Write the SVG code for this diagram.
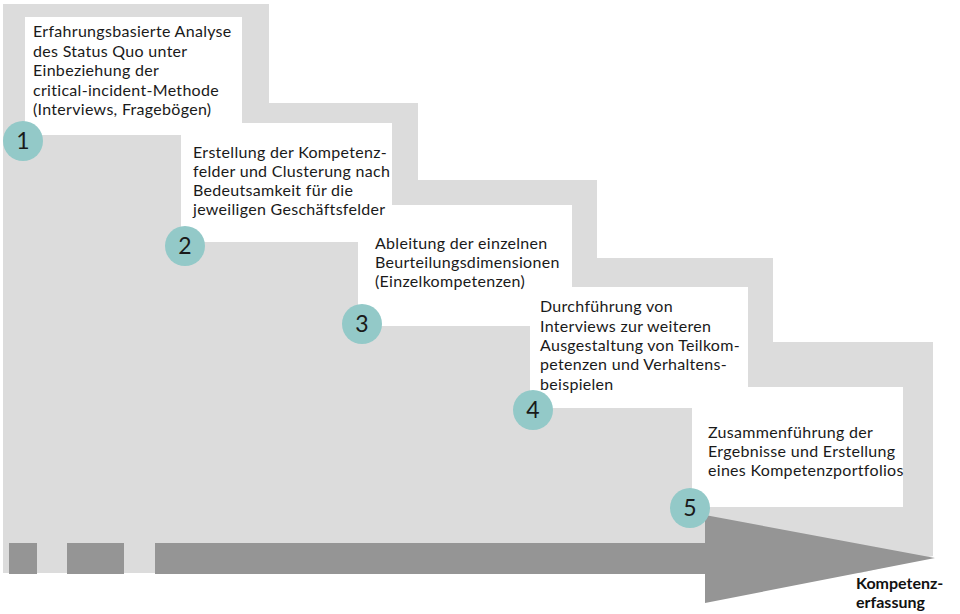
<svg xmlns="http://www.w3.org/2000/svg" width="960" height="614" viewBox="0 0 960 614">
<style>
.bg{fill:#dcdcdc}
.box{fill:#ffffff}
.dark{fill:#959595}
.num{fill:#93c9c8}
.t{font-family:Lato,"Liberation Sans",sans-serif;font-size:16px;letter-spacing:0.3px;fill:#1a1a1a}
.n{font-family:Lato,"Liberation Sans",sans-serif;font-size:23px;fill:#1a1a1a;text-anchor:middle}
.lab{font-family:Lato,"Liberation Sans",sans-serif;font-size:16px;font-weight:bold;fill:#111}
</style>
<rect width="960" height="614" fill="#ffffff"/>
<g id="background">
<polygon class="bg" points="3,4 269,4 269,103 418,103 418,180 597,180 597,258 773,258 773,342 933,342 933,556 860,573 3,573"/>
<rect class="box" x="25" y="17" width="217" height="118"/>
<rect class="box" x="181" y="123" width="211" height="119"/>
<rect class="box" x="358" y="205" width="214" height="121"/>
<rect class="box" x="530" y="287" width="218" height="121"/>
<rect class="box" x="692" y="387" width="211" height="120"/>
</g>
<g id="connectors">
<rect class="dark" x="9" y="543" width="28" height="31"/>
<rect class="dark" x="67" y="543" width="57" height="31"/>
<polygon class="dark" points="155,543 705,543 705,515 935,558 705,603 705,574 155,574"/>
</g>
<g id="step1">
<text class="t" x="33" y="37">Erfahrungsbasierte Analyse</text>
<text class="t" x="33" y="56.5">des Status Quo unter</text>
<text class="t" x="33" y="76">Einbeziehung der</text>
<text class="t" x="33" y="95.5">critical-incident-Methode</text>
<text class="t" x="33" y="115">(Interviews, Fragebögen)</text>
<circle class="num" cx="23" cy="141" r="20"/><text class="n" x="23" y="149">1</text>
</g>
<g id="step2">
<text class="t" x="193" y="158">Erstellung der Kompetenz-</text>
<text class="t" x="193" y="177">felder und Clusterung nach</text>
<text class="t" x="193" y="196">Bedeutsamkeit für die</text>
<text class="t" x="193" y="215">jeweiligen Geschäftsfelder</text>
<circle class="num" cx="185" cy="246" r="20"/><text class="n" x="185" y="254">2</text>
</g>
<g id="step3">
<text class="t" x="375" y="249">Ableitung der einzelnen</text>
<text class="t" x="375" y="268">Beurteilungsdimensionen</text>
<text class="t" x="375" y="287">(Einzelkompetenzen)</text>
<circle class="num" cx="362" cy="324" r="20"/><text class="n" x="362" y="332">3</text>
</g>
<g id="step4">
<text class="t" x="540" y="312">Durchführung von</text>
<text class="t" x="540" y="332">Interviews zur weiteren</text>
<text class="t" x="540" y="351">Ausgestaltung von  Teilkom-</text>
<text class="t" x="540" y="370">petenzen und Verhaltens-</text>
<text class="t" x="540" y="390">beispielen</text>
<circle class="num" cx="533" cy="410" r="20"/><text class="n" x="533" y="418">4</text>
</g>
<g id="step5">
<text class="t" x="708" y="438">Zusammenführung der</text>
<text class="t" x="708" y="457">Ergebnisse und Erstellung</text>
<text class="t" x="708" y="476">eines Kompetenzportfolios</text>
<circle class="num" cx="690" cy="508" r="20"/><text class="n" x="690" y="516">5</text>
</g>
<g id="label">
<text class="lab" x="856" y="589">Kompetenz-</text>
<text class="lab" x="856" y="608">erfassung</text>
</g>
</svg>
